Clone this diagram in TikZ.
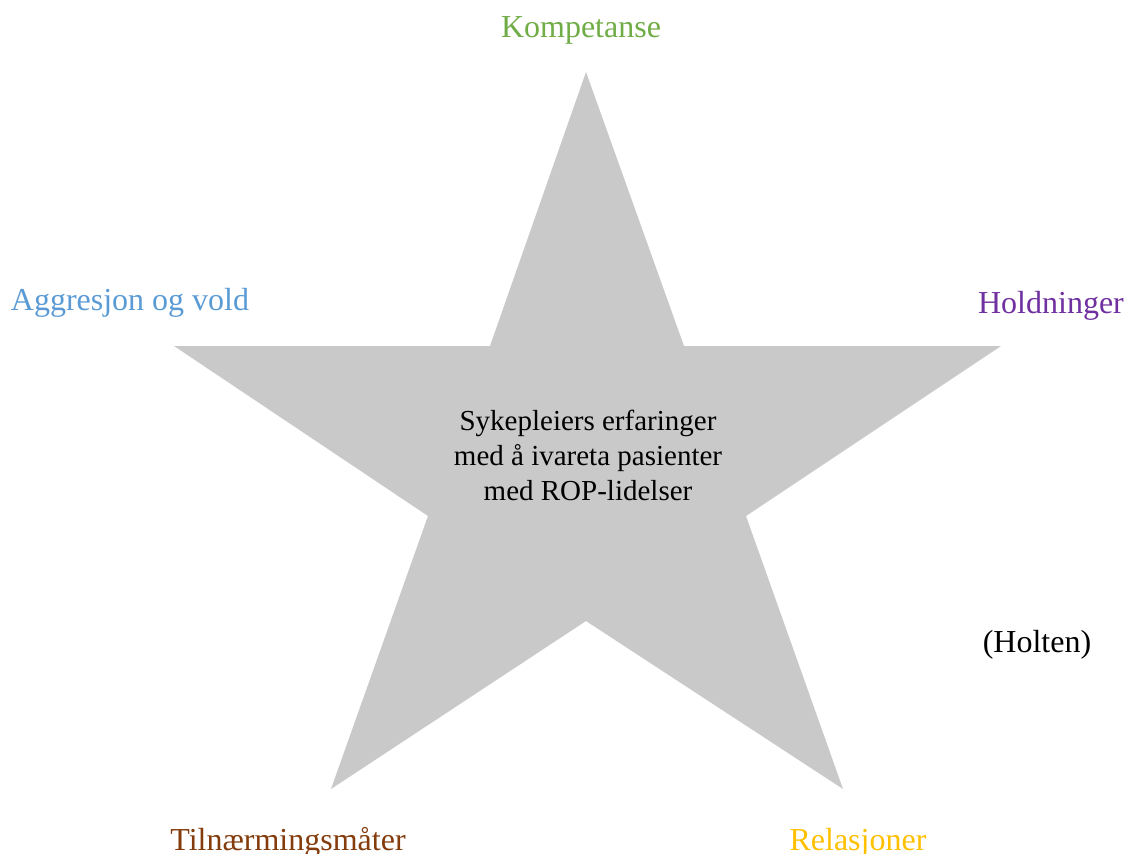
\documentclass[tikz,border=0pt]{standalone}
\usepackage{fontspec}
\setmainfont{Liberation Serif}
\definecolor{kgreen}{HTML}{70AD47}
\definecolor{kblue}{HTML}{5B9BD5}
\definecolor{kpurple}{HTML}{7030A0}
\definecolor{kbrown}{HTML}{843C0C}
\definecolor{kgold}{HTML}{FFC000}
\definecolor{kgray}{HTML}{C9C9C9}
\begin{document}
\begin{tikzpicture}[x=1pt,y=-1pt,
  lbl/.style={font=\fontsize{32}{38}\selectfont, anchor=base, inner sep=0pt},
  ctext/.style={font=\fontsize{29}{35}\selectfont, align=center, inner sep=0pt}]
\useasboundingbox[fill=white] (0,0) rectangle (1130,854);
\fill[kgray] (586,72) -- (684,346) -- (1001,346) -- (746,516) -- (843,789)
  -- (586,621) -- (331,789) -- (428,516) -- (174,346) -- (490,346) -- cycle;
\node[ctext] (center) at (588,455) {Sykepleiers erfaringer\\med å ivareta pasienter\\med ROP-lidelser};
\node[lbl, text=kgreen] (komp) at (581,37) {Kompetanse};
\node[lbl, text=kblue] (aggr) at (130,310) {Aggresjon og vold};
\node[lbl, text=kpurple] (hold) at (1051,313) {Holdninger};
\node[lbl, text=kbrown] (tiln) at (288,850) {Tilnærmingsmåter};
\node[lbl, text=kgold] (rel) at (858,850) {Relasjoner};
\node[lbl, text=black] (holten) at (1037,652) {(Holten)};
\end{tikzpicture}
\end{document}
